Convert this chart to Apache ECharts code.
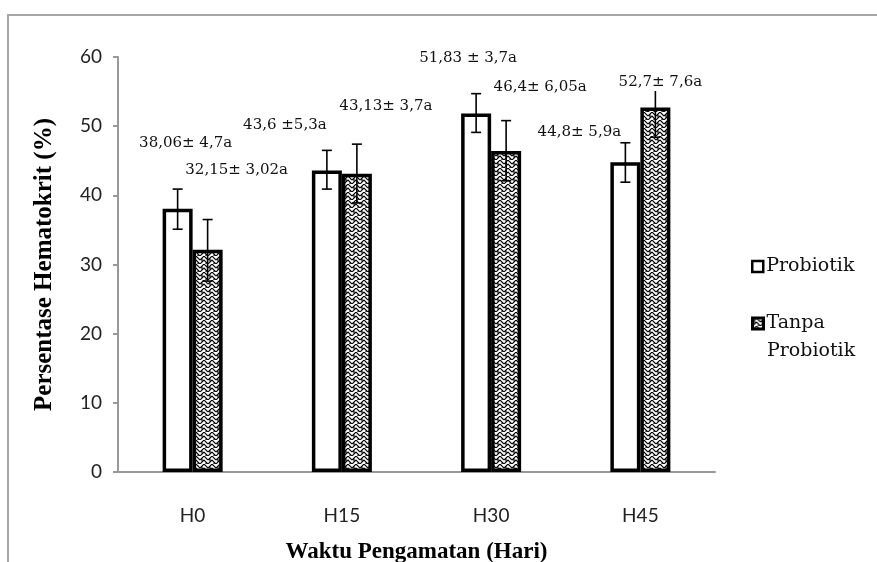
<!DOCTYPE html>
<html><head><meta charset="utf-8">
<script src="https://cdn.jsdelivr.net/npm/echarts@6/dist/echarts.min.js"></script>
<style>html,body{margin:0;padding:0;background:#fff;overflow:hidden}#c{width:877px;height:562px}</style>
</head><body><div id="c"></div>
<script>
const categories = ['H0', 'H15', 'H30', 'H45'];
const probiotik = [38.06, 43.6, 51.83, 44.8];
const tanpa = [32.15, 43.13, 46.4, 52.7];
const probLow = [35.1, 40.9, 49.1, 41.9];
const probHigh = [40.9, 46.5, 54.7, 47.6];
const tanpaLow = [27.6, 38.9, 42.1, 48.4];
const tanpaHigh = [36.5, 47.4, 50.8, 57.0];
const probLabels = ['38,06\u00b1 4,7a', '43,6 \u00b15,3a', '51,83 \u00b1 3,7a', '44,8\u00b1 5,9a'];
const tanpaLabels = ['32,15\u00b1 3,02a', '43,13\u00b1 3,7a', '46,4\u00b1 6,05a', '52,7\u00b1 7,6a'];
const yMin = 0, yMax = 60, yInterval = 10;

// layout config (pixel offsets of data labels from the bar top centre)
const probLabelOffset = [[8, -66], [-42, -45], [-8, -55], [-46, -30]];
const tanpaLabelOffset = [[29, -80], [29, -68], [34, -64], [5, -25]];
const BAR_W = 30;

function makePattern() {
  const c = document.createElement('canvas');
  c.width = 8; c.height = 8;
  const g = c.getContext('2d');
  g.fillStyle = '#fff'; g.fillRect(0, 0, 8, 8);
  g.strokeStyle = '#000'; g.lineWidth = 1.1;
  g.beginPath();
  g.moveTo(0, 4); g.lineTo(4, 0); g.lineTo(8, 4);
  g.moveTo(0, 8); g.lineTo(4, 4); g.lineTo(8, 8);
  g.moveTo(2, 2); g.lineTo(2, 6);
  g.moveTo(6, 6); g.lineTo(6, 10);
  g.stroke();
  return c;
}
const pattern = { image: makePattern(), repeat: 'repeat' };

const chart = echarts.init(document.getElementById('c'), null, { renderer: 'canvas', width: 877, height: 562 });

function errData(lo, hi) { return categories.map((_, i) => [i, lo[i], hi[i]]); }
function errRender(shift) {
  return function (params, api) {
    const i = api.value(0);
    const p1 = api.coord([i, api.value(1)]);
    const p2 = api.coord([i, api.value(2)]);
    const x = p1[0] + shift;
    const cap = 5;
    const st = { stroke: '#000', lineWidth: 1.6 };
    return { type: 'group', children: [
      { type: 'line', shape: { x1: x, y1: p1[1], x2: x, y2: p2[1] }, style: st },
      { type: 'line', shape: { x1: x - cap, y1: p1[1], x2: x + cap, y2: p1[1] }, style: st },
      { type: 'line', shape: { x1: x - cap, y1: p2[1], x2: x + cap, y2: p2[1] }, style: st }
    ]};
  };
}
function labelRender(shift, texts, offs) {
  return function (params, api) {
    const i = api.value(0);
    const p = api.coord([i, api.value(1)]);
    return { type: 'text', z2: 10, style: {
      text: texts[i], x: p[0] + shift + offs[i][0], y: p[1] + offs[i][1],
      align: 'center', verticalAlign: 'middle',
      font: '15px "DejaVu Serif"', fill: '#111',
      backgroundColor: '#fff', padding: [1, 1]
    }};
  };
}

const option = {
  backgroundColor: '#fff',
  animation: false,
  grid: { left: 118, width: 597, top: 57, height: 415, containLabel: false, outerBoundsMode: 'none' },
  legend: [
    { data: ['Probiotik'], orient: 'vertical', left: 746, top: 252, icon: 'rect',
      itemWidth: 11, itemHeight: 11, itemGap: 6,
      itemStyle: { borderColor: '#000', borderWidth: 2.5 },
      textStyle: { fontFamily: 'DejaVu Serif', fontSize: 19, color: '#111', padding: [0, 0, 0, -2] } },
    { data: ['Tanpa Probiotik'], orient: 'vertical', left: 746, top: 309, icon: 'rect',
      itemWidth: 11, itemHeight: 11,
      itemStyle: { borderColor: '#000', borderWidth: 3 },
      formatter: function () { return 'Tanpa'; },
      textStyle: { fontFamily: 'DejaVu Serif', fontSize: 19, color: '#111', padding: [0, 0, 0, -2] } }
  ],
  graphic: [
    { type: 'rect', shape: { x: 8, y: 15, width: 1000, height: 1000 }, style: { fill: 'none', stroke: '#a6a6a6', lineWidth: 2 }, silent: true },
    { type: 'text', left: 767, top: 342, style: { text: 'Probiotik', font: '19px "DejaVu Serif"', fill: '#111' } }
  ],
  xAxis: {
    type: 'category', data: categories,
    name: 'Waktu Pengamatan (Hari)', nameLocation: 'middle', nameGap: 69,
    nameTextStyle: { fontFamily: 'Liberation Serif', fontWeight: 'bold', fontSize: 23, color: '#000' },
    axisLine: { lineStyle: { color: '#999', width: 2 } },
    axisTick: { show: false },
    axisLabel: { fontFamily: 'Lato', fontSize: 19, color: '#222', margin: 34 },
    splitLine: { show: false }
  },
  yAxis: {
    type: 'value', min: yMin, max: yMax, interval: yInterval,
    name: 'Persentase Hematokrit (%)', nameLocation: 'middle', nameGap: 61,
    nameTextStyle: { fontFamily: 'Liberation Serif', fontWeight: 'bold', fontSize: 25, color: '#000' },
    axisLine: { show: true, lineStyle: { color: '#999', width: 2 } },
    axisTick: { show: true, length: 5, lineStyle: { color: '#999', width: 2 } },
    axisLabel: { fontFamily: 'Lato', fontSize: 19, color: '#222', margin: 16 },
    splitLine: { show: false }
  },
  series: [
    { name: 'Probiotik', type: 'bar', data: probiotik, barWidth: BAR_W, barGap: '0%', z: 2,
      itemStyle: { color: '#fff', borderColor: '#000', borderWidth: 3.5 } },
    { name: 'Tanpa Probiotik', type: 'bar', data: tanpa, barWidth: BAR_W, barGap: '0%', z: 2,
      itemStyle: { color: pattern, borderColor: '#000', borderWidth: 3.5 } },
    { type: 'custom', data: errData(probLow, probHigh), renderItem: errRender(-BAR_W / 2), z: 3, silent: true },
    { type: 'custom', data: errData(tanpaLow, tanpaHigh), renderItem: errRender(BAR_W / 2), z: 3, silent: true },
    { type: 'custom', data: categories.map((_, i) => [i, probiotik[i]]), renderItem: labelRender(-BAR_W / 2, probLabels, probLabelOffset), z: 5, silent: true },
    { type: 'custom', data: categories.map((_, i) => [i, tanpa[i]]), renderItem: labelRender(BAR_W / 2, tanpaLabels, tanpaLabelOffset), z: 5, silent: true }
  ]
};
chart.setOption(option);
</script></body></html>
